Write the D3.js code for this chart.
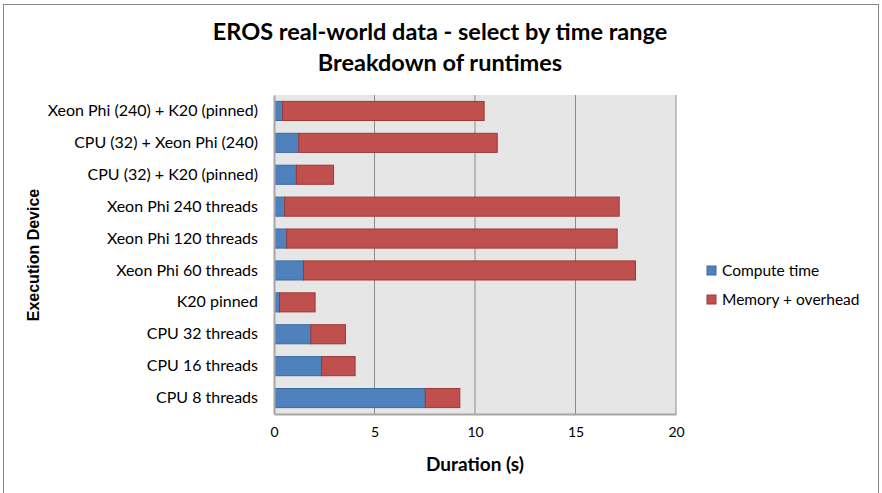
<!DOCTYPE html>
<html>
<head>
<meta charset="utf-8">
<script src="https://cdn.jsdelivr.net/npm/d3@7"></script>
<style>
  body { margin: 0; background: #fff; }
  text { font-family: Lato, "Open Sans", sans-serif; fill: #000; }
</style>
</head>
<body>
<div id="chart-area"></div>
<script>
// chart data, bottom row first as in the picture
var devices = ["CPU 8 threads", "CPU 16 threads", "CPU 32 threads", "K20 pinned",
               "Xeon Phi 60 threads", "Xeon Phi 120 threads", "Xeon Phi 240 threads",
               "CPU (32) + K20 (pinned)", "CPU (32) + Xeon Phi (240)", "Xeon Phi (240) + K20 (pinned)"];
var computeTime = [7.50, 2.34, 1.81, 0.25, 1.44, 0.61, 0.51, 1.09, 1.21, 0.40];
var memoryOverhead = [1.72, 1.67, 1.72, 1.77, 16.52, 16.44, 16.64, 1.85, 9.87, 10.03];
var seriesNames = ["Compute time", "Memory + overhead"];
var xTicks = [0, 5, 10, 15, 20];

var colors = ["#4f81bd", "#c0504d"];
var strokes = ["#3b6a9f", "#9c3a37"];

var svgWidth = 882, svgHeight = 493;
var margin = { top: 95, left: 274, right: 206, bottom: 79 };
var width = svgWidth - margin.left - margin.right;
var height = svgHeight - margin.top - margin.bottom;

var svg = d3.select("#chart-area").append("svg")
    .attr("width", svgWidth)
    .attr("height", svgHeight);

// outer chart frame
svg.append("rect")
    .attr("x", 3.5).attr("y", 4.5)
    .attr("width", 875).attr("height", 500)
    .attr("fill", "#fff")
    .attr("stroke", "#888");

// title
svg.append("text")
    .attr("x", 440).attr("y", 40)
    .attr("text-anchor", "middle")
    .attr("font-size", "23.5px").attr("font-weight", "bold")
    .text("EROS real-world data - select by time range");
svg.append("text")
    .attr("x", 440).attr("y", 71)
    .attr("text-anchor", "middle")
    .attr("font-size", "23.5px").attr("font-weight", "bold")
    .text("Breakdown of runtimes");

var graph = svg.append("g")
    .attr("transform", "translate(" + margin.left + "," + margin.top + ")");

var xScale = d3.scaleLinear().domain([0, 20]).range([0, width]);
var yScale = d3.scaleBand()
    .domain(devices.slice().reverse())
    .range([0, height])
    .paddingInner(0.37)
    .paddingOuter(0.185);

graph.append("rect")
    .attr("width", width).attr("height", height)
    .attr("fill", "#e6e6e6");

// vertical gridlines
graph.append("g")
    .selectAll("line")
    .data(xTicks.filter(d => d > 0))
    .enter().append("line")
    .attr("x1", d => xScale(d)).attr("x2", d => xScale(d))
    .attr("y1", 0).attr("y2", height)
    .attr("stroke", "#8c8c8c").attr("stroke-width", 1);

// stacked bars
var rows = devices.map((d, i) => ({ device: d, values: [computeTime[i], memoryOverhead[i]] }));
var stack = d3.stack().keys([0, 1]).value((d, k) => d.values[k]);
var layers = stack(rows);

graph.selectAll(".layer")
    .data(layers)
    .enter().append("g")
    .attr("class", "layer")
    .attr("fill", (d, i) => colors[i])
    .attr("stroke", (d, i) => strokes[i])
    .selectAll("rect")
    .data(d => d)
    .enter().append("rect")
    .attr("x", d => xScale(d[0]) + 0.5)
    .attr("y", d => yScale(d.data.device) + 0.5)
    .attr("width", d => xScale(d[1]) - xScale(d[0]))
    .attr("height", yScale.bandwidth() - 1);

// axes
var xAxisCall = d3.axisBottom(xScale).tickValues(xTicks).tickSize(0).tickPadding(13);
var xAxis = graph.append("g")
    .attr("transform", "translate(0," + height + ")")
    .call(xAxisCall);
xAxis.select(".domain").attr("stroke", "#a6a6a6").attr("stroke-width", 2);
xAxis.selectAll("text").attr("font-size", "14px").attr("fill", "#000");

var yAxisCall = d3.axisLeft(yScale).tickSize(0).tickPadding(16);
var yAxis = graph.append("g").call(yAxisCall);
yAxis.select(".domain").attr("stroke", "#a6a6a6").attr("stroke-width", 2);
yAxis.selectAll("text").attr("font-size", "16px").attr("fill", "#000");

// axis titles
svg.append("text")
    .attr("x", margin.left + width / 2).attr("y", 471)
    .attr("text-anchor", "middle")
    .attr("font-size", "19px").attr("font-weight", "bold")
    .text("Duration (s)");
svg.append("text")
    .attr("transform", "translate(39,255) rotate(-90)")
    .attr("text-anchor", "middle")
    .style("font-family", "'Liberation Sans', Arial, sans-serif")
    .attr("font-size", "16px").attr("font-weight", "bold")
    .text("Execution Device");

// legend
var legend = svg.append("g").attr("transform", "translate(707,266)");
var items = legend.selectAll("g")
    .data(seriesNames)
    .enter().append("g")
    .attr("transform", (d, i) => "translate(0," + i * 29 + ")");
items.append("rect")
    .attr("width", 9).attr("height", 9)
    .attr("fill", (d, i) => colors[i])
    .attr("stroke", (d, i) => strokes[i]);
items.append("text")
    .attr("x", 15).attr("y", 10)
    .attr("font-size", "15.5px")
    .text(d => d);
</script>
</body>
</html>
